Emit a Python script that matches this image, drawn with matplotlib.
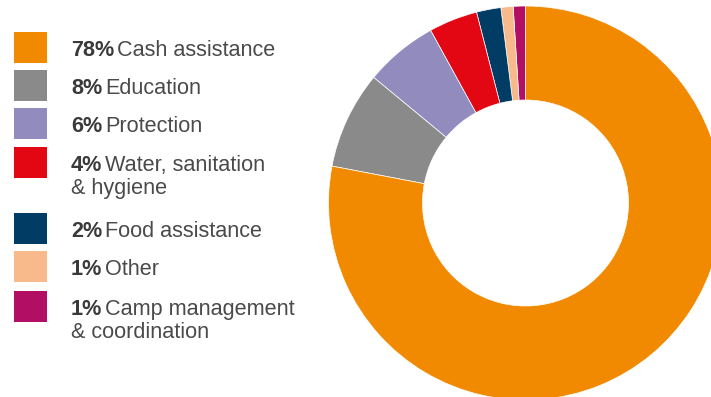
import matplotlib
matplotlib.use("Agg")
import matplotlib.pyplot as plt
from matplotlib.patches import Rectangle

# sector shares of the funding (percent), in legend order
sectors = ["Cash assistance", "Education", "Protection",
           "Water, sanitation\n& hygiene", "Food assistance", "Other",
           "Camp management\n& coordination"]
shares = [78, 8, 6, 4, 2, 1, 1]
colors = ["#F18A00", "#8A8A8A", "#918BBE", "#E30613", "#003C64", "#F8B98B", "#B20F64"]

W, H = 711, 397
fig = plt.figure(figsize=(W / 100, H / 100), dpi=100)
ax = fig.add_axes([0, 0, 1, 1])

# donut: smallest sectors start at 12 o'clock and run anticlockwise
ax.pie(shares[::-1], colors=colors[::-1], startangle=90, counterclock=True,
       center=(525.5, H - 203), radius=197,
       wedgeprops=dict(width=197 - 103, edgecolor="white", linewidth=0.5))
ax.set_xlim(0, W)
ax.set_ylim(0, H)
ax.set_aspect("equal")
ax.axis("off")

font = "Liberation Sans"
fs = 15.6
box_tops = [32, 70, 108, 147, 213, 251, 291]

fig.canvas.draw()
renderer = fig.canvas.get_renderer()
for top, name, pct, col in zip(box_tops, sectors, shares, colors):
    ax.add_patch(Rectangle((14, H - top - 31), 33, 31, color=col, lw=0))
    y = H - top - 24
    t = ax.text(71, y, f"{pct}%", fontsize=fs, fontweight="bold", family=font,
                color="#3a3a3a", va="baseline")
    bb = t.get_window_extent(renderer)
    lines = name.split("\n")
    ax.text(bb.x1 + 3, y, lines[0], fontsize=fs, family=font,
            color="#4a4a4a", va="baseline")
    if len(lines) > 1:
        ax.text(71, y - 23, lines[1], fontsize=fs, family=font,
                color="#4a4a4a", va="baseline")

fig.savefig("out.png", dpi=100)
